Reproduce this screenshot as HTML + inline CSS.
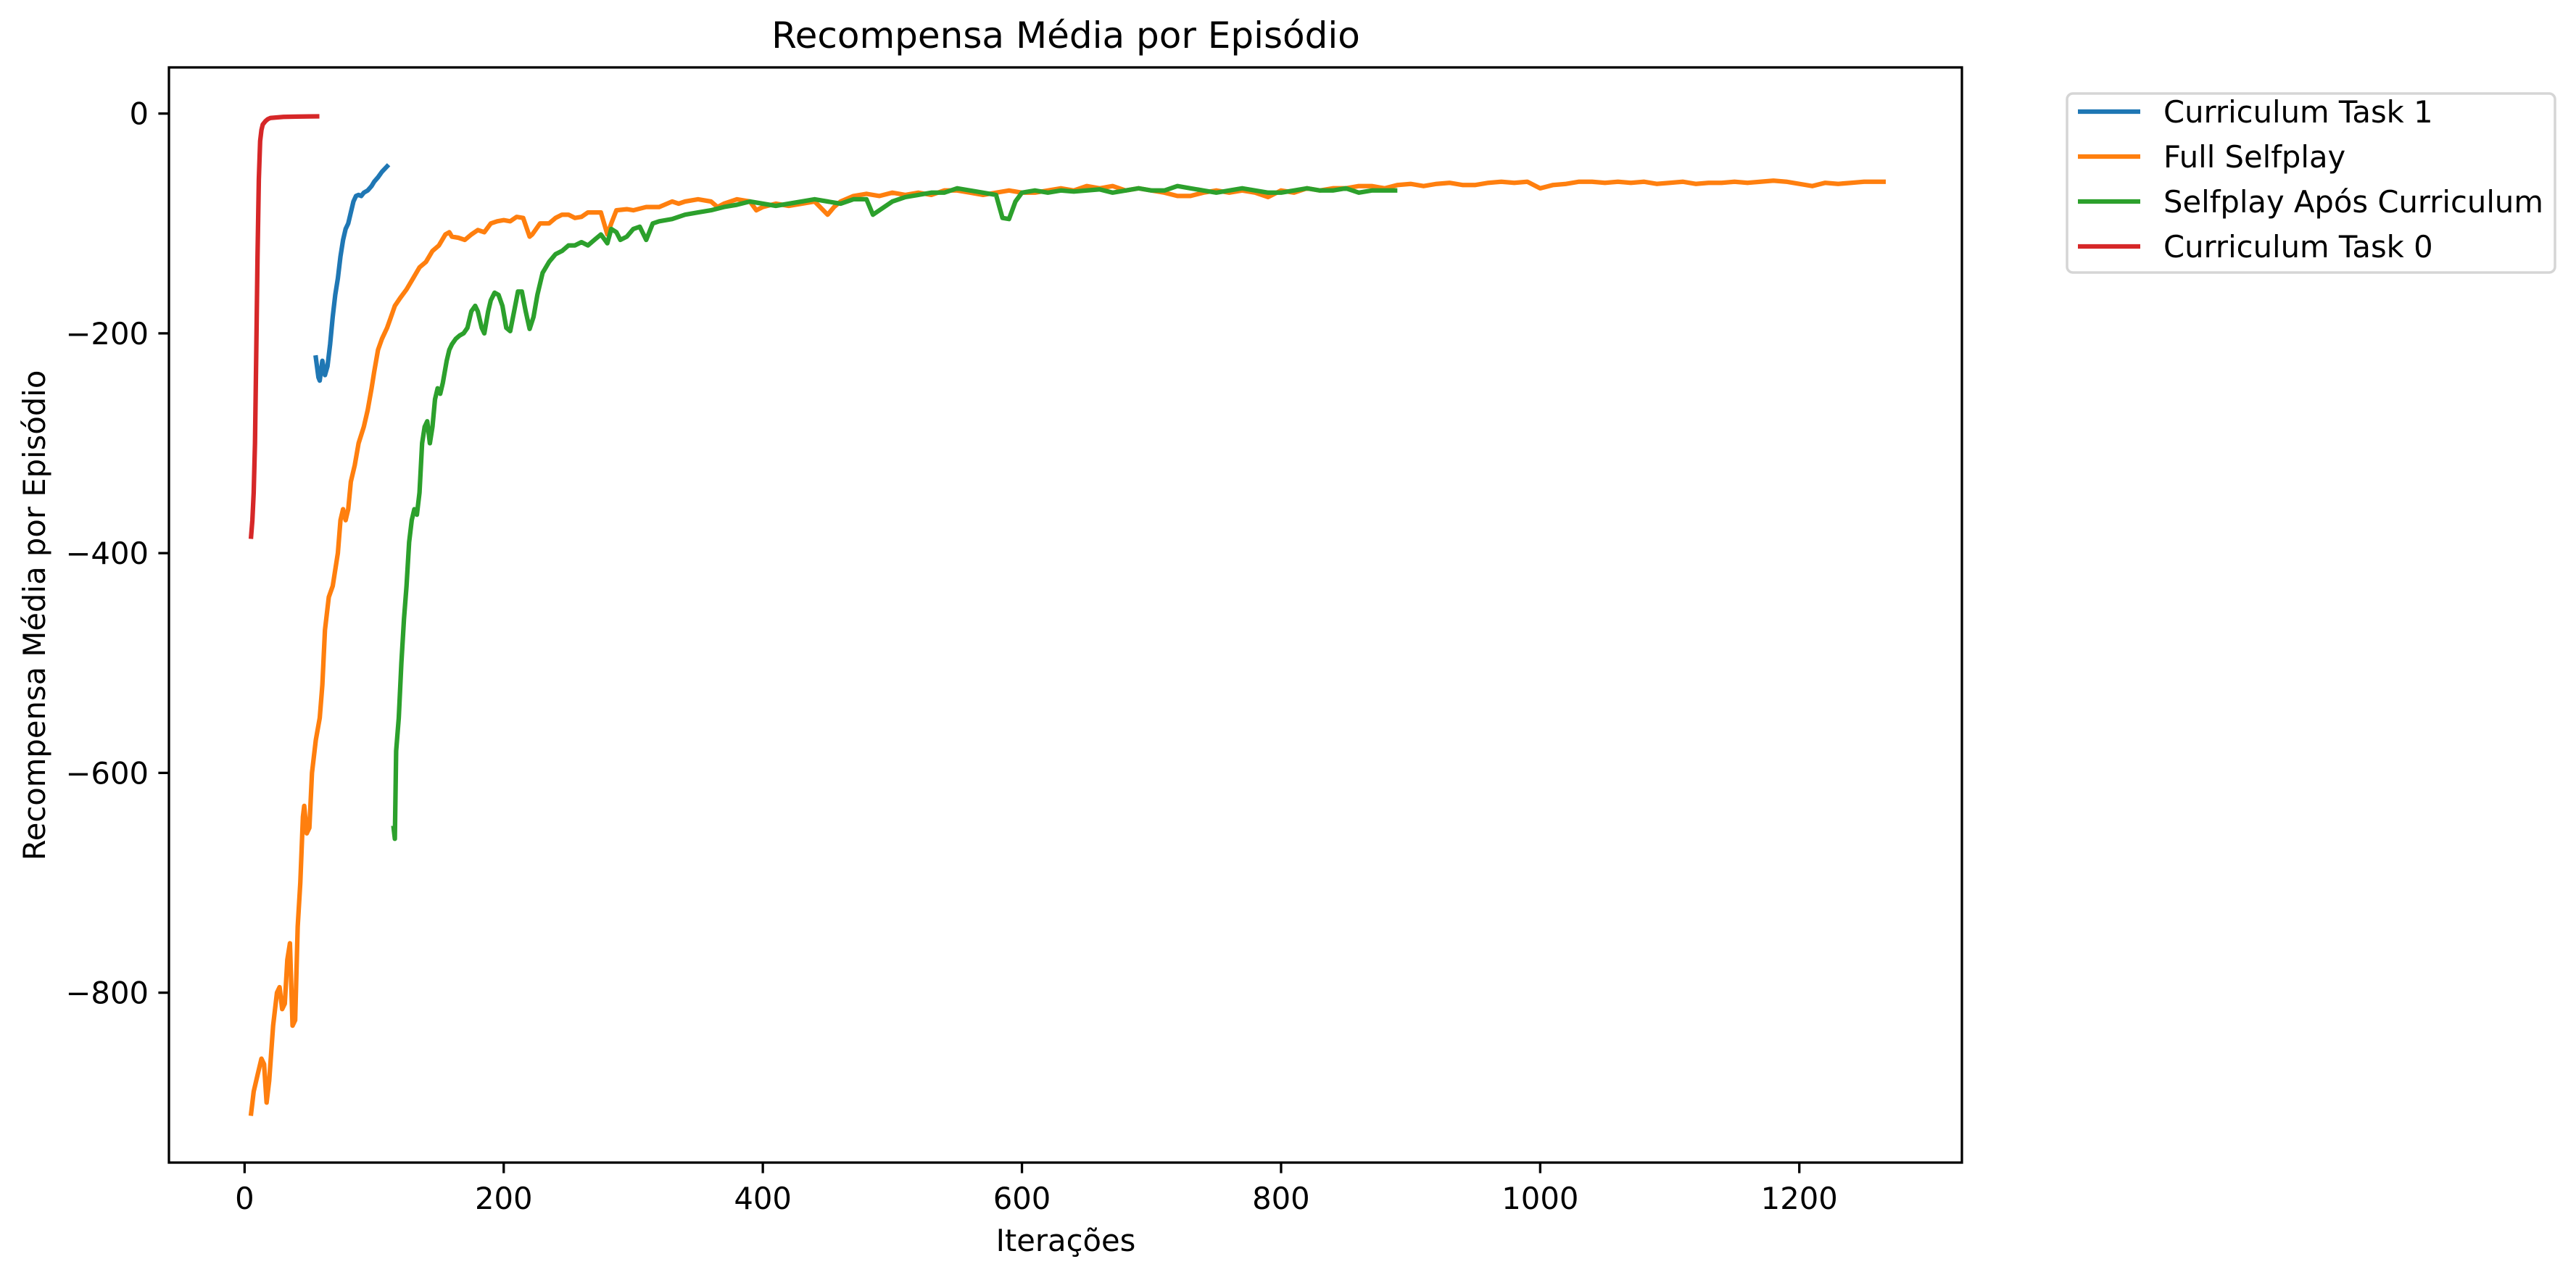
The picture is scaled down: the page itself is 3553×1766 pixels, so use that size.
<!DOCTYPE html>
<html><head><meta charset="utf-8"><style>
html,body{margin:0;padding:0;background:#fff;}
svg{display:block;font-family:"DejaVu Sans","Liberation Sans",sans-serif;}
</style></head><body>
<svg id="chart" width="3553" height="1766" viewBox="0 0 3553 1766" xmlns="http://www.w3.org/2000/svg">
<rect width="3553" height="1766" fill="#fff"/>
<g id="series"></g>
<g id="axes"></g>
<text x="1470" y="66" font-size="50" text-anchor="middle">Recompensa Média por Episódio</text>
<text x="1470" y="1726" font-size="41.7" text-anchor="middle">Iterações</text>
<text transform="translate(62,849) rotate(-90)" font-size="41.7" text-anchor="middle">Recompensa Média por Episódio</text>
<g>
<rect x="2851" y="129" width="673" height="247" rx="8" fill="#fff" stroke="#d5d5d5" stroke-width="3.5"/>
<g id="legend-entries"></g>
</g>
</svg>
<script>
const xTicks=[0,200,400,600,800,1000,1200];
const yTicks=[0,-200,-400,-600,-800];
const t0X=[5,6,7,8,9,10,11,12,13,14,16,18,20,25,30,40,50,56];
const t0Y=[-385,-370,-345,-300,-220,-130,-60,-25,-15,-10,-7,-5,-4,-3.5,-3,-2.8,-2.6,-2.5];
const t1X=[55,57,58,60,62,64,66,68,70,72,74,76,78,80,82,84,86,88,90,92,95,98,100,103,106,110];
const t1Y=[-222,-240,-243,-225,-238,-230,-210,-185,-165,-150,-130,-115,-105,-100,-90,-80,-75,-74,-75,-72,-70,-66,-62,-58,-53,-48];
const fsX=[5,7,10,13,15,17,19,22,25,27,29,31,33,35,37,39,41,43,45,46,48,50,52,55,58,60,62,65,68,72,74,76,78,80,82,85,88,92,95,98,100,103,106,110,113,116,120,125,130,135,140,145,150,155,158,160,165,170,175,180,185,190,195,200,205,210,215,220,222,228,235,240,245,250,255,260,265,270,275,280,283,287,295,300,310,320,330,335,340,350,360,365,370,375,380,390,395,400,410,420,430,440,450,455,460,470,480,490,500,510,520,530,540,550,560,570,580,590,600,610,620,630,640,650,660,670,680,690,700,710,720,730,740,750,760,770,780,790,800,810,820,830,840,850,860,870,880,890,900,910,920,930,940,950,960,970,980,990,1000,1010,1020,1030,1040,1050,1060,1070,1080,1090,1100,1110,1120,1130,1140,1150,1160,1170,1180,1190,1200,1210,1220,1230,1240,1250,1265];
const fsY=[-910,-890,-875,-860,-865,-900,-880,-830,-800,-795,-815,-810,-770,-755,-830,-825,-740,-700,-640,-630,-655,-650,-600,-570,-550,-520,-470,-440,-430,-400,-370,-360,-370,-360,-335,-320,-300,-285,-270,-250,-235,-215,-205,-195,-185,-175,-168,-160,-150,-140,-135,-125,-120,-110,-108,-112,-113,-115,-110,-106,-108,-100,-98,-97,-98,-94,-95,-112,-110,-100,-100,-95,-92,-92,-95,-94,-90,-90,-90,-110,-100,-88,-87,-88,-85,-85,-80,-82,-80,-78,-80,-85,-82,-80,-78,-80,-88,-85,-82,-84,-82,-80,-92,-85,-80,-75,-73,-75,-72,-74,-72,-74,-70,-70,-72,-74,-72,-70,-72,-72,-70,-68,-70,-66,-68,-66,-70,-68,-70,-72,-75,-75,-72,-70,-72,-70,-72,-76,-70,-72,-68,-70,-68,-68,-66,-66,-68,-65,-64,-66,-64,-63,-65,-65,-63,-62,-63,-62,-68,-65,-64,-62,-62,-63,-62,-63,-62,-64,-63,-62,-64,-63,-63,-62,-63,-62,-61,-62,-64,-66,-63,-64,-63,-62,-62];
const gsX=[115,116,117,119,121,123,125,127,129,131,133,135,137,139,141,143,145,147,149,151,153,156,158,160,163,166,169,172,175,178,180,183,185,188,190,193,196,199,202,205,208,211,214,217,220,223,226,230,235,240,245,250,255,260,265,270,275,280,283,287,290,295,300,305,310,315,320,330,340,350,360,370,380,390,400,410,420,430,440,450,460,470,480,485,490,500,510,520,530,540,550,560,570,580,585,590,595,600,610,620,630,640,650,660,670,680,690,700,710,720,730,740,750,760,770,780,790,800,810,820,830,840,850,860,870,880,888];
const gsY=[-650,-660,-580,-550,-500,-460,-430,-390,-370,-360,-365,-345,-300,-285,-280,-300,-285,-260,-250,-255,-245,-225,-215,-210,-205,-202,-200,-195,-180,-175,-180,-195,-200,-180,-170,-163,-165,-175,-195,-198,-180,-162,-162,-180,-196,-185,-165,-145,-135,-128,-125,-120,-120,-117,-120,-115,-110,-118,-105,-108,-115,-112,-105,-103,-115,-100,-98,-96,-92,-90,-88,-85,-83,-80,-82,-84,-82,-80,-78,-80,-82,-78,-78,-92,-88,-80,-76,-74,-72,-72,-68,-70,-72,-74,-95,-96,-80,-72,-70,-72,-70,-71,-70,-69,-72,-70,-68,-70,-70,-66,-68,-70,-72,-70,-68,-70,-72,-72,-70,-68,-70,-70,-68,-72,-70,-70,-70];

const L=233,R=2706,T=93,B=1604;
const xmin=-58.4,xmax=1325.5,ymin=-954.6,ymax=42;
const sx=v=>L+(v-xmin)/(xmax-xmin)*(R-L);
const sy=v=>B-(v-ymin)/(ymax-ymin)*(B-T);
const NS='http://www.w3.org/2000/svg';
function mk(tag,attrs,parent){const e=document.createElementNS(NS,tag);for(const k in attrs)e.setAttribute(k,attrs[k]);parent.appendChild(e);return e;}
const ser=document.getElementById('series');
const axes=document.getElementById('axes');
const defs=[[t1X,t1Y,'#1f77b4','curriculum-task-1-line'],[fsX,fsY,'#ff7f0e','full-selfplay-line'],[gsX,gsY,'#2ca02c','selfplay-apos-curriculum-line'],[t0X,t0Y,'#d62728','curriculum-task-0-line']];
defs.forEach(d=>{
  const pts=d[0].map((x,i)=>sx(x).toFixed(1)+','+sy(d[1][i]).toFixed(1)).join(' ');
  const p=mk('polyline',{points:pts,fill:'none',stroke:d[2],'stroke-width':6.25,'stroke-linejoin':'round','stroke-linecap':'square'},ser);
  
  
});
const frame=mk('rect',{x:L,y:T,width:R-L,height:B-T,fill:'none',stroke:'#000','stroke-width':3.3},axes);


xTicks.forEach(v=>{
  const x=sx(v);
  const t=mk('line',{x1:x,x2:x,y1:B,y2:B+14.6,stroke:'#000','stroke-width':3.3},axes);
  
  
  const lb=mk('text',{x:x,y:B+64,'font-size':41.7,'text-anchor':'middle'},axes);
  lb.textContent=String(v);
  
  
});
yTicks.forEach(v=>{
  const y=sy(v);
  const t=mk('line',{x1:L,x2:L-14.6,y1:y,y2:y,stroke:'#000','stroke-width':3.3},axes);
  
  
  const lb=mk('text',{x:L-28,y:y+15,'font-size':41.7,'text-anchor':'end'},axes);
  lb.textContent=v<0?'\u2212'+Math.abs(v):String(v);
  
  
});
const leg=document.getElementById('legend-entries');
const names=['Curriculum Task 1','Full Selfplay','Selfplay Após Curriculum','Curriculum Task 0'];
const cols=['#1f77b4','#ff7f0e','#2ca02c','#d62728'];
names.forEach((n,i)=>{
  const y=154+i*62;
  const g=mk('g',{},leg);
  
  
  mk('line',{x1:2866,x2:2952,y1:y,y2:y,stroke:cols[i],'stroke-width':6.25},g);
  const t=mk('text',{x:2984,y:y+15,'font-size':41.7},g);
  t.textContent=n;
});
</script>
</body></html>
